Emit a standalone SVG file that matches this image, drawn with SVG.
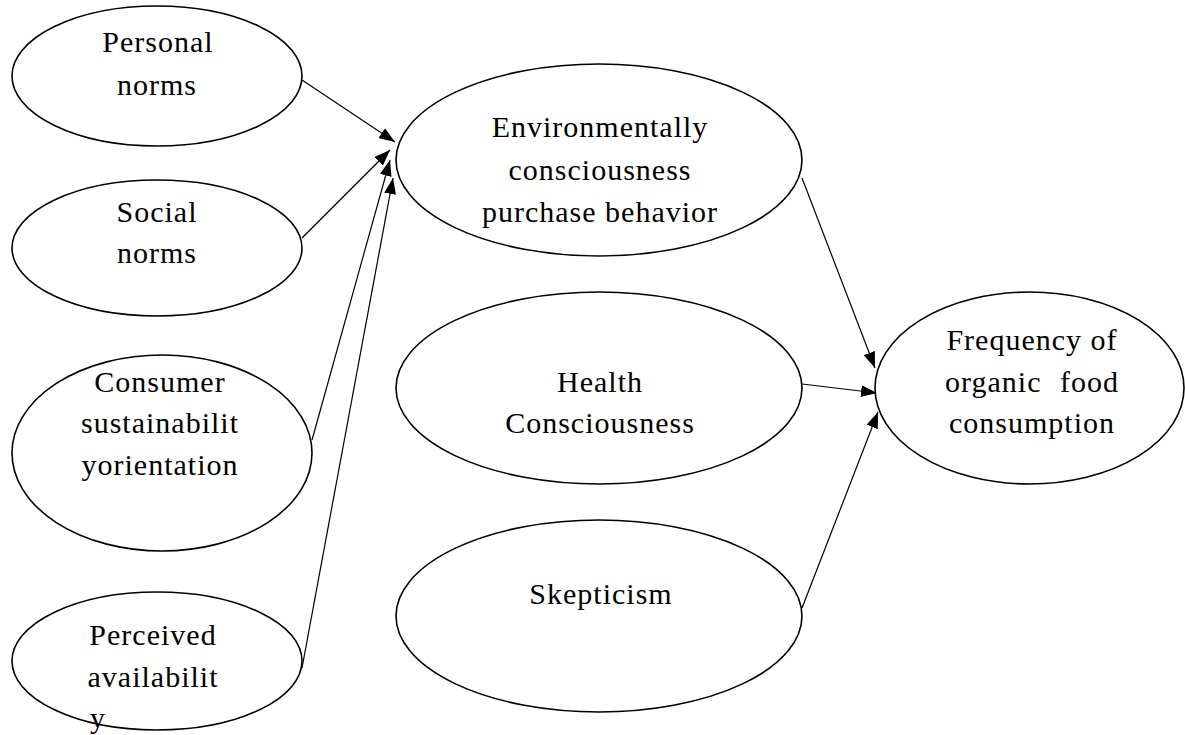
<svg xmlns="http://www.w3.org/2000/svg" width="1185" height="735" viewBox="0 0 1185 735">
<defs>
<style>
.node ellipse{fill:#fff;stroke:#000;stroke-width:1.6}
.node text{font-family:"Liberation Serif","Times New Roman",serif;font-size:30px;letter-spacing:1px;fill:#000;text-anchor:middle}
.edge line{stroke:#000;stroke-width:1.2;marker-end:url(#ah)}
</style>
<marker id="ah" markerUnits="userSpaceOnUse" markerWidth="17" markerHeight="12" refX="16" refY="6" orient="auto">
<path d="M0,0 L16,6 L0,12 z" fill="#000"/>
</marker>
</defs>
<rect width="1185" height="735" fill="#fff"/>
<g id="connectors" class="edge">
<line x1="302" y1="80" x2="395" y2="142"/>
<line x1="302" y1="238" x2="390" y2="150"/>
<line x1="312" y1="440" x2="390" y2="160"/>
<line x1="302" y1="668" x2="393" y2="178"/>
<line x1="802" y1="178" x2="875" y2="368"/>
<line x1="802" y1="384" x2="877" y2="393"/>
<line x1="802" y1="608" x2="878" y2="412"/>
</g>
<g id="personal-norms" class="node">
<ellipse cx="157" cy="76" rx="145" ry="70"/>
<text x="158" y="52">Personal</text>
<text x="157" y="95">norms</text>
</g>
<g id="social-norms" class="node">
<ellipse cx="157" cy="248" rx="145" ry="68"/>
<text x="157" y="222">Social</text>
<text x="157" y="263">norms</text>
</g>
<g id="consumer-sustainability" class="node">
<ellipse cx="162" cy="453" rx="150" ry="98"/>
<text x="160" y="392">Consumer</text>
<text x="160" y="433">sustainabilit</text>
<text x="160" y="475">yorientation</text>
</g>
<g id="perceived-availability" class="node">
<ellipse cx="157" cy="661" rx="145" ry="69"/>
<text x="153" y="645">Perceived</text>
<text x="153" y="687">availabilit</text>
<text x="90" y="728" style="text-anchor:start">y</text>
</g>
<g id="environmentally-consciousness" class="node">
<ellipse cx="599" cy="160" rx="203" ry="96"/>
<text x="600" y="137">Environmentally</text>
<text x="600" y="180">consciousness</text>
<text x="600" y="222">purchase behavior</text>
</g>
<g id="health-consciousness" class="node">
<ellipse cx="599" cy="388" rx="203" ry="96"/>
<text x="600" y="392">Health</text>
<text x="600" y="433">Consciousness</text>
</g>
<g id="skepticism" class="node">
<ellipse cx="599" cy="616" rx="203" ry="96"/>
<text x="601" y="604">Skepticism</text>
</g>
<g id="frequency" class="node">
<ellipse cx="1029.5" cy="388" rx="154.5" ry="96"/>
<text x="1032" y="350">Frequency of</text>
<text x="1032" y="392" style="word-spacing:10px">organic food</text>
<text x="1032" y="433">consumption</text>
</g>
</svg>
